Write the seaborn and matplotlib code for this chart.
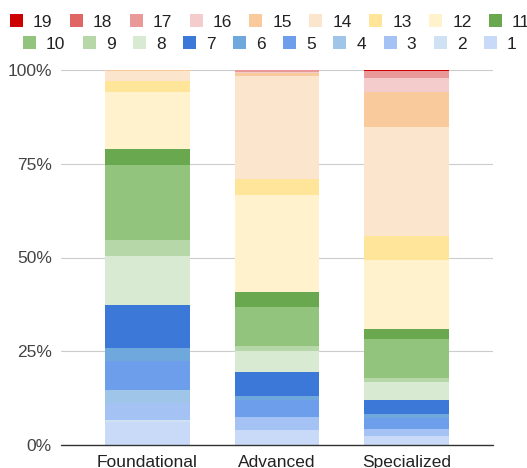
import numpy as np
import pandas as pd
import matplotlib
matplotlib.use("Agg")
import matplotlib.pyplot as plt
import seaborn as sns
from matplotlib.patches import Patch

categories = ["Foundational", "Advanced", "Specialized"]
series = [str(i) for i in range(1, 20)]
# values (percent) for series 1..19
foundational = [6.2, 0.5, 4.45, 3.56, 7.74, 3.56, 11.39, 13.08, 4.27, 20.02,
                4.27, 15.04, 3.11, 2.49, 0.36, 0, 0, 0, 0]
advanced = [4.0, 0, 3.56, 0, 4.45, 1.07, 6.41, 5.6, 1.33, 10.5,
            4.0, 25.8, 4.27, 27.3, 0.8, 0.4, 0.5, 0, 0]
specialized = [2.4, 0, 1.87, 0, 2.85, 1.16, 3.74, 4.8, 1.07, 10.4,
               2.67, 18.4, 6.4, 29.1, 9.34, 3.47, 1.96, 0, 0.3]
colors = ["#c9daf8", "#cfe2f3", "#a4c2f4", "#9fc5e8", "#6d9eeb", "#6fa8dc",
          "#3c78d8", "#d9ead3", "#b6d7a8", "#93c47d", "#6aa84f", "#fff2cc",
          "#ffe599", "#fce5cd", "#f9cb9c", "#f4cccc", "#ea9999", "#e06666",
          "#cc0000"]

rows = []
for cat, vals in zip(categories, [foundational, advanced, specialized]):
    for s, v in zip(series, vals):
        rows.append({"category": cat, "series": s, "value": v})
df = pd.DataFrame(rows)

sns.set_theme(style="white")
plt.rcParams["font.family"] = ["Liberation Sans", "DejaVu Sans"]

fig = plt.figure(figsize=(5.27, 4.68), dpi=100)
ax = fig.add_axes([61 / 527, 1 - 445 / 468, 432 / 527, 375 / 468])

palette = dict(zip(series, colors))
sns.histplot(data=df, x="category", hue="series", weights="value",
             multiple="fill", discrete=True, shrink=0.656,
             hue_order=series[::-1], palette=palette, linewidth=0,
             alpha=1, legend=False, ax=ax, zorder=2)

ax.set_xlim(-0.668, 2.668)
ax.set_ylim(0, 1)
ax.set_xticks([0, 1, 2])
ax.set_xticklabels(categories, fontsize=12.5, color="#222222")
ax.set_yticks([0, 0.25, 0.5, 0.75, 1.0])
ax.set_yticklabels(["0%", "25%", "50%", "75%", "100%"], fontsize=12.5, color="#444444")
ax.tick_params(axis="y", length=0, pad=6.5)
ax.tick_params(axis="x", length=0, pad=7.5)
ax.set_xlabel("")
ax.set_ylabel("")
for sp in ax.spines.values():
    sp.set_visible(False)
ax.grid(axis="y", color="#cccccc", linewidth=0.8)
ax.grid(axis="x", visible=False)
ax.set_axisbelow(True)
ax.axhline(0, color="#333333", linewidth=1.0, zorder=5, clip_on=False)

def make_legend(labels, x0, y):
    handles = [Patch(facecolor=palette[l], edgecolor="none", label=l) for l in labels]
    leg = fig.legend(handles=handles, loc="center left", bbox_to_anchor=(x0, y),
                     ncol=len(labels), frameon=False, fontsize=12.5,
                     handlelength=0.75, handleheight=0.75, handletextpad=0.58,
                     columnspacing=1.0, borderpad=0, borderaxespad=0,
                     labelcolor="#222222")
    return leg

make_legend([str(i) for i in range(19, 10, -1)], 10 / 527, 1 - 22 / 468)
make_legend([str(i) for i in range(10, 0, -1)], 23 / 527, 1 - 44 / 468)

fig.savefig("out.png", dpi=100)
